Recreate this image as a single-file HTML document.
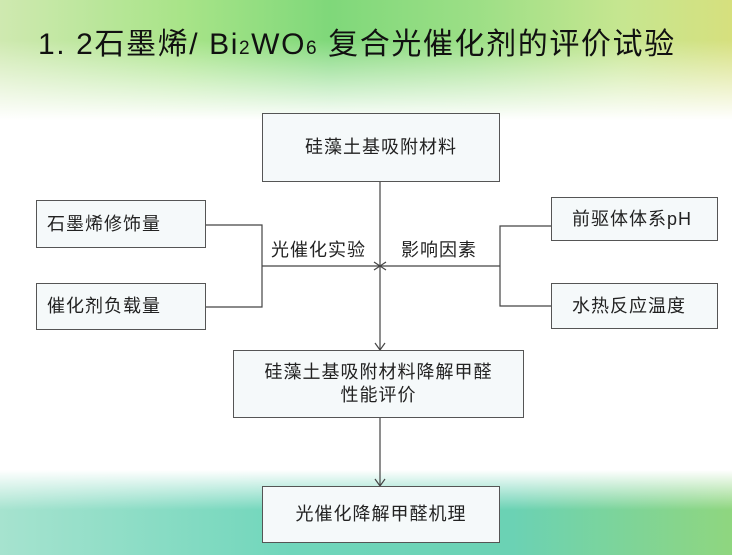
<!DOCTYPE html>
<html><head><meta charset="utf-8"><style>
body{margin:0}
#c{position:relative;width:732px;height:555px;overflow:hidden;font-family:"Liberation Sans","Noto Sans CJK SC",sans-serif;
background:
linear-gradient(to bottom,rgba(255,255,255,0) 0,rgba(255,255,255,0) 40px,#fff 120px,#fff 480px,rgba(255,255,255,0) 530px),
linear-gradient(to right,#cfe9b0 0%,#a8e488 25%,#7fd87a 45%,#9cdf86 65%,#c6e690 85%,#d6e07e 100%);}
#bot{position:absolute;left:0;top:470px;width:732px;height:85px;background:linear-gradient(to bottom,rgba(255,255,255,1) 0,rgba(255,255,255,0) 40px),linear-gradient(to right,#a6e3cf,#70d6bb 40%,#6bd2b4 70%,#8fd67f);}
.t{position:absolute;left:38px;top:19px;font-size:30px;letter-spacing:1.6px;color:#111;white-space:nowrap}
.b{position:absolute;box-sizing:border-box;border:1.5px solid #555;background:#f5f9fa;font-size:18px;letter-spacing:1px;color:#222;display:flex;align-items:center;justify-content:center;text-align:center;line-height:23px}
.l{position:absolute;font-size:18px;letter-spacing:1px;color:#222}
svg{position:absolute;left:0;top:0}
</style></head><body><div id="c"><div id="bot"></div>
<div class="t">1. 2石墨烯/ Bi<span style="font-size:19px">2</span>WO<span style="font-size:19px">6</span> 复合光催化剂的评价试验</div>
<svg width="732" height="555"><g stroke="#444" stroke-width="1.2" fill="none">
<line x1="380" y1="182" x2="380" y2="350"/><polyline points="375,343 380,350 385,343"/>
<line x1="262" y1="266" x2="500" y2="266"/>
<polyline points="374,262 380,266 374,270"/><polyline points="386,262 380,266 386,270"/>
<polyline points="206,225 262,225 262,307 206,307"/>
<polyline points="551,226 500,226 500,306 551,306"/>
<line x1="380" y1="418" x2="380" y2="486"/><polyline points="375,479 380,486 385,479"/>
</g></svg>
<div class="b" style="left:262px;top:113px;width:238px;height:69px">硅藻土基吸附材料</div>
<div class="b" style="left:36px;top:200px;width:170px;height:48px;justify-content:flex-start;padding-left:10px">石墨烯修饰量</div>
<div class="b" style="left:36px;top:283px;width:170px;height:47px;justify-content:flex-start;padding-left:10px">催化剂负载量</div>
<div class="b" style="left:551px;top:197px;width:167px;height:44px;justify-content:flex-start;padding-left:20px">前驱体体系pH</div>
<div class="b" style="left:551px;top:283px;width:167px;height:46px;justify-content:flex-start;padding-left:20px">水热反应温度</div>
<div class="b" style="left:233px;top:350px;width:291px;height:68px">硅藻土基吸附材料降解甲醛<br>性能评价</div>
<div class="b" style="left:262px;top:486px;width:238px;height:57px">光催化降解甲醛机理</div>
<div class="l" style="left:271px;top:236px">光催化实验</div>
<div class="l" style="left:401px;top:236px">影响因素</div>
</div></body></html>
